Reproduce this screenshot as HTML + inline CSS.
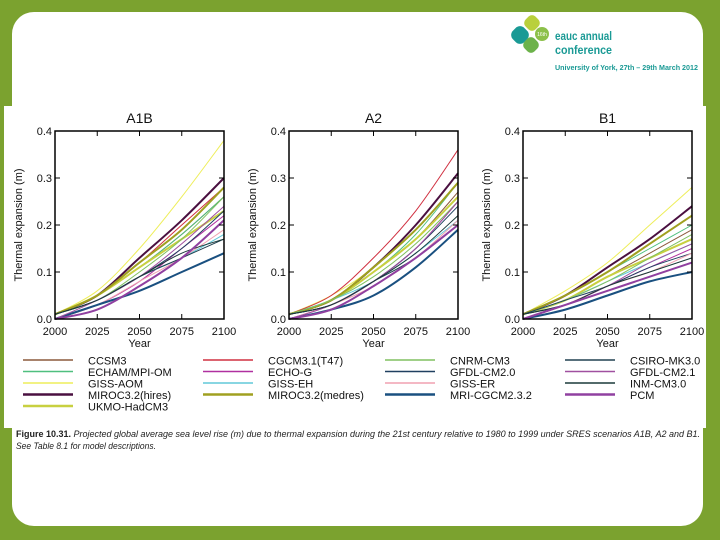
<!DOCTYPE html>
<html><head><meta charset="utf-8"><style>
body{margin:0;width:720px;height:540px;background:#7ba22f;overflow:hidden;font-family:"Liberation Sans",sans-serif}
#panel{position:absolute;left:12px;top:12px;width:691px;height:514px;background:#fff;border-radius:22px}
#fig{position:absolute;left:4px;top:106px;width:702px;height:322px;background:#fff}
</style></head><body>
<div id="panel"></div>
<div id="fig"></div>
<svg width="720" height="540" style="position:absolute;left:0;top:0" id="svg">
<g>
<rect x="512" y="27" width="16" height="16" rx="6" fill="#1a9a95" transform="rotate(45 520 35)"/>
<rect x="525" y="16" width="14" height="14" rx="5" fill="#b9d03c" transform="rotate(45 532 23)"/>
<rect x="524" y="38" width="14" height="14" rx="5" fill="#6cb24a" transform="rotate(45 531 45)"/>
<circle cx="542" cy="34" r="7" fill="#8cc04a"/>
<text x="542" y="36" font-size="5" fill="#fff" text-anchor="middle">16th</text>
<text x="555" y="40" font-size="11.5" fill="#1a9a95" font-weight="bold" textLength="57" lengthAdjust="spacingAndGlyphs">eauc annual</text>
<text x="555" y="54" font-size="11.5" fill="#1a9a95" font-weight="bold" textLength="57" lengthAdjust="spacingAndGlyphs">conference</text>
<text x="555" y="70" font-size="7.5" fill="#1a9a95" font-weight="bold" textLength="143" lengthAdjust="spacingAndGlyphs">University of York, 27th – 29th March 2012</text>
</g>
<g id="charts"></g>
<g id="legend"></g>
<text x="16" y="437" font-size="9" fill="#222" textLength="684" lengthAdjust="spacingAndGlyphs"><tspan font-weight="bold">Figure 10.31.</tspan><tspan font-style="italic"> Projected global average sea level rise (m) due to thermal expansion during the 21st century relative to 1980 to 1999 under SRES scenarios A1B, A2 and B1.</tspan></text>
<text x="16" y="449" font-size="9" fill="#222" font-style="italic" textLength="140" lengthAdjust="spacingAndGlyphs">See Table 8.1 for model descriptions.</text>
</svg>
<script>
const years=[2000,2025,2050,2075,2100];
const yTicks=[0.0,0.1,0.2,0.3,0.4];
const scenarios=["A1B","A2","B1"];
const models=["CCSM3","ECHAM/MPI-OM","GISS-AOM","MIROC3.2(hires)","UKMO-HadCM3","CGCM3.1(T47)","ECHO-G","GISS-EH","MIROC3.2(medres)","CNRM-CM3","GFDL-CM2.0","GISS-ER","MRI-CGCM2.3.2","CSIRO-MK3.0","GFDL-CM2.1","INM-CM3.0","PCM"];
const colors=["#8b5a3c","#4fbf7f","#eeee5a","#4a1040","#c8d040","#d03040","#b030a0","#60c8d8","#a0a020","#80c060","#204060","#f0a0b0","#1a5080","#204050","#a050a0","#1a3a3a","#9040a0"];
const widths=[1,1,1,2,2,1,1,1,2,1,1,1,2,1,1,1,2];
const valsA1B=[[0.01,0.05,0.11,0.18,0.26],[0.01,0.05,0.11,0.18,0.26],[0.01,0.06,0.15,0.26,0.38],[0.01,0.05,0.13,0.21,0.30],[0.01,0.05,0.11,0.17,0.23],[0.01,0.05,0.12,0.20,0.28],[0.0,0.03,0.08,0.15,0.22],[0.01,0.04,0.09,0.13,0.18],[0.01,0.05,0.12,0.19,0.28],[0.01,0.04,0.10,0.17,0.26],[0.01,0.04,0.09,0.15,0.23],[0.0,0.03,0.08,0.13,0.19],[0.0,0.03,0.06,0.10,0.14],[0.01,0.04,0.09,0.13,0.17],[0.0,0.04,0.09,0.16,0.24],[0.01,0.04,0.09,0.14,0.17],[0.0,0.02,0.07,0.13,0.21]];
const valsA2=[[0.01,0.04,0.10,0.17,0.27],[0.01,0.04,0.10,0.18,0.29],[0.01,0.05,0.11,0.20,0.31],[0.01,0.04,0.11,0.20,0.31],[0.01,0.04,0.10,0.17,0.26],[0.01,0.05,0.13,0.23,0.36],[0.0,0.03,0.08,0.15,0.25],[0.01,0.04,0.08,0.14,0.21],[0.01,0.04,0.11,0.19,0.29],[0.01,0.04,0.09,0.16,0.25],[0.01,0.03,0.08,0.15,0.24],[0.0,0.03,0.07,0.13,0.21],[0.0,0.02,0.05,0.11,0.19],[0.01,0.03,0.08,0.13,0.20],[0.0,0.03,0.08,0.15,0.25],[0.01,0.03,0.08,0.14,0.22],[0.0,0.02,0.07,0.13,0.20]];
const valsB1=[[0.01,0.04,0.09,0.14,0.19],[0.01,0.05,0.10,0.15,0.20],[0.01,0.06,0.12,0.20,0.28],[0.01,0.05,0.11,0.17,0.24],[0.01,0.04,0.09,0.13,0.17],[0.01,0.05,0.10,0.16,0.22],[0.0,0.03,0.07,0.11,0.15],[0.01,0.04,0.08,0.12,0.16],[0.01,0.05,0.10,0.16,0.22],[0.01,0.04,0.08,0.13,0.18],[0.01,0.04,0.07,0.11,0.14],[0.0,0.03,0.07,0.10,0.14],[0.0,0.02,0.05,0.08,0.10],[0.01,0.03,0.06,0.09,0.12],[0.0,0.03,0.07,0.12,0.16],[0.01,0.03,0.07,0.10,0.13],[0.0,0.03,0.06,0.09,0.12]];
const allVals=[valsA1B,valsA2,valsB1];
const NS="http://www.w3.org/2000/svg";
function mk(tag,attrs,parent){const e=document.createElementNS(NS,tag);for(const k in attrs)e.setAttribute(k,attrs[k]);parent.appendChild(e);return e;}
function smooth(pts){let d='M'+pts[0][0]+','+pts[0][1];for(let i=0;i<pts.length-1;i++){const p0=pts[Math.max(0,i-1)],p1=pts[i],p2=pts[i+1],p3=pts[Math.min(pts.length-1,i+2)];const c1=[p1[0]+(p2[0]-p0[0])/6,p1[1]+(p2[1]-p0[1])/6],c2=[p2[0]-(p3[0]-p1[0])/6,p2[1]-(p3[1]-p1[1])/6];d+=' C'+c1.join(',')+' '+c2.join(',')+' '+p2.join(',');}return d;}
const charts=document.getElementById('charts');
const W=169,H=188,TOP=131;
scenarios.forEach((sc,ci)=>{
  const L=55+ci*234;
  const xs=y=>L+(y-2000)/100*W;
  const ys=v=>TOP+H-v/0.4*H;
  const g=mk('g',{},charts);
  
  
  const t=mk('text',{x:L+W/2,y:123,'font-size':14,'text-anchor':'middle',fill:'#111'},g);t.textContent=sc;
  
  
  allVals[ci].forEach((vals,mi)=>{
    const p=mk('path',{d:smooth(vals.map((v,i)=>[xs(years[i]),ys(v)])),fill:'none',stroke:colors[mi],'stroke-width':widths[mi]},g);
    
    
  });
  const fr=mk('rect',{x:L,y:TOP,width:W,height:H,fill:'none',stroke:'#000','stroke-width':1.5},g);
  
  
  yTicks.forEach(v=>{
    mk('line',{x1:L,x2:L+5,y1:ys(v),y2:ys(v),stroke:'#000'},g);
    mk('line',{x1:L+W,x2:L+W-5,y1:ys(v),y2:ys(v),stroke:'#000'},g);
    const tl=mk('text',{x:L-3,y:ys(v)+4,'font-size':11,'text-anchor':'end',fill:'#111'},g);tl.textContent=v.toFixed(1);
    
    
  });
  years.forEach(yr=>{
    mk('line',{x1:xs(yr),x2:xs(yr),y1:TOP+H,y2:TOP+H-5,stroke:'#000'},g);
    mk('line',{x1:xs(yr),x2:xs(yr),y1:TOP,y2:TOP+5,stroke:'#000'},g);
    const tl=mk('text',{x:xs(yr),y:335,'font-size':11,'text-anchor':'middle',fill:'#111'},g);tl.textContent=yr;
    
    
  });
  const xt=mk('text',{x:L+W/2,y:347,'font-size':11,'text-anchor':'middle',fill:'#111'},g);xt.textContent='Year';
  
  
  const yt=mk('text',{x:0,y:0,'font-size':11,'text-anchor':'middle',fill:'#111',transform:`translate(${L-33},${TOP+H/2}) rotate(-90)`},g);yt.textContent='Thermal expansion (m)';
  
  
});
const leg=document.getElementById('legend');
const colX=[23,203,385,565],rowY=[360,371.5,383,394.5,406];
const layout=[[0,0],[0,1],[0,2],[0,3],[0,4],[1,0],[1,1],[1,2],[1,3],[2,0],[2,1],[2,2],[2,3],[3,0],[3,1],[3,2],[3,3]];
models.forEach((m,mi)=>{
  const [c,r]=layout[mi];const x=colX[c],y=rowY[r];
  const g=mk('g',{},leg);
  
  
  mk('line',{x1:x,x2:x+50,y1:y,y2:y,stroke:colors[mi],'stroke-width':widths[mi]+0.5},g);
  const t=mk('text',{x:x+65,y:y+4.5,'font-size':11,fill:'#111'},g);t.textContent=m;
});
</script>
</body></html>
